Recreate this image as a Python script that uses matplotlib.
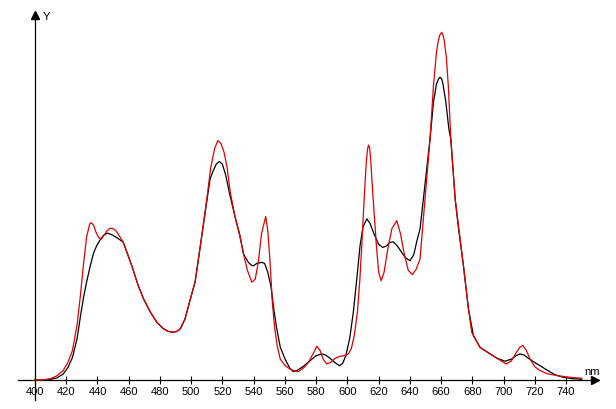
import numpy as np
import matplotlib.pyplot as plt

# red spectrum (nm, relative intensity)
red_nm = [400, 405, 410, 414, 418, 421, 424, 427, 429, 431, 433, 435, 436, 437.5, 439, 441,
          442.5, 444, 446, 448, 450, 452, 454, 456.5, 459, 462, 466, 469.5, 474, 478, 482,
          485, 488.5, 491, 493, 496, 499, 502.5, 506, 510, 512.5, 515, 517, 519, 521, 523,
          525, 528, 531, 533.5, 536, 538.8, 541, 543, 545, 547.7, 549, 550.5, 552, 553.5,
          555, 557, 560, 563, 566, 568.6, 572, 575, 578, 580.4, 582.5, 584.5, 586.8, 589,
          592, 595.3, 598, 600.6, 602.5, 604.5, 606.4, 608, 609.2, 610.5, 612, 612.8, 613.5,
          614.2, 614.8, 616.5, 618.5, 620, 621.6, 623.5, 626, 628.5, 631.6, 634, 636.5, 639,
          641.6, 644, 646.5, 649.7, 652.9, 655.1, 657, 658, 659, 660.4, 661.2, 662, 663.3,
          664.6, 666.2, 669, 674.3, 677.5, 679.6, 684.9, 691.3, 696, 701.6, 705, 708, 710.5,
          712.3, 714.5, 717, 720, 723.4, 728, 735, 742, 750]
red_val = [0.000, 0.000, 0.004, 0.012, 0.027, 0.050, 0.085, 0.160, 0.240, 0.330, 0.410,
           0.448, 0.452, 0.445, 0.425, 0.408, 0.405, 0.415, 0.428, 0.436, 0.435, 0.428,
           0.414, 0.396, 0.365, 0.328, 0.272, 0.233, 0.194, 0.166, 0.148, 0.140, 0.137,
           0.140, 0.147, 0.175, 0.225, 0.282, 0.390, 0.520, 0.610, 0.665, 0.688, 0.680,
           0.655, 0.610, 0.540, 0.470, 0.418, 0.362, 0.315, 0.281, 0.290, 0.340, 0.420,
           0.470, 0.430, 0.338, 0.220, 0.147, 0.100, 0.060, 0.042, 0.032, 0.026, 0.024,
           0.035, 0.050, 0.075, 0.097, 0.085, 0.060, 0.046, 0.050, 0.062, 0.068, 0.070,
           0.075, 0.090, 0.130, 0.195, 0.290, 0.386, 0.500, 0.620, 0.660, 0.675, 0.668,
           0.640, 0.520, 0.390, 0.310, 0.285, 0.310, 0.380, 0.435, 0.458, 0.420, 0.360,
           0.315, 0.303, 0.318, 0.348, 0.520, 0.693, 0.846, 0.940, 0.970, 0.990, 0.999,
           0.992, 0.975, 0.930, 0.846, 0.693, 0.520, 0.328, 0.204, 0.137, 0.094, 0.075,
           0.062, 0.046, 0.055, 0.078, 0.095, 0.099, 0.085, 0.060, 0.038, 0.027, 0.018,
           0.012, 0.008, 0.005]

# black spectrum
black_nm = [400, 405, 410, 414, 418, 421, 424, 427, 429, 431, 433, 435.5, 437.5, 439.5, 442,
            444, 446.3, 449, 452, 454, 456.5, 459, 462, 466, 469.5, 474, 478, 482, 485,
            488.5, 491, 493, 496, 499, 502.5, 506, 509.9, 512.1, 514, 516, 518, 520, 522,
            524.9, 528, 531, 533.5, 536.6, 538.5, 539.8, 542, 545.2, 547, 549, 551, 553,
            554.8, 557, 560.1, 563, 565.4, 568, 572, 576, 580, 583.6, 586, 589, 592, 594.9,
            597, 599, 601.5, 603.8, 606, 608.1, 610, 612.4, 614.5, 617, 620, 622.6, 625, 627,
            629.4, 632, 635, 637.5, 640.1, 642.5, 644.5, 646.5, 649.7, 652.9, 655.1, 657,
            658.3, 659.3, 660.3, 661, 663, 665, 666.2, 669, 671, 674.3, 677.5, 680.7, 684.9,
            691.3, 696, 700.9, 705, 708, 710.6, 713, 716, 720, 723.4, 728, 733, 738, 744, 750]
black_val = [0.000, 0.000, 0.002, 0.006, 0.017, 0.035, 0.065, 0.120, 0.180, 0.235, 0.281,
             0.330, 0.365, 0.386, 0.405, 0.416, 0.422, 0.418, 0.410, 0.404, 0.396, 0.365,
             0.328, 0.272, 0.233, 0.194, 0.166, 0.148, 0.140, 0.137, 0.140, 0.147, 0.175,
             0.225, 0.282, 0.390, 0.511, 0.578, 0.600, 0.620, 0.628, 0.620, 0.590, 0.529,
             0.470, 0.418, 0.362, 0.338, 0.330, 0.328, 0.335, 0.338, 0.335, 0.310, 0.270,
             0.200, 0.147, 0.095, 0.060, 0.035, 0.024, 0.028, 0.040, 0.055, 0.070, 0.075,
             0.072, 0.062, 0.050, 0.041, 0.048, 0.070, 0.120, 0.195, 0.290, 0.386, 0.440,
             0.463, 0.450, 0.420, 0.390, 0.381, 0.385, 0.395, 0.397, 0.385, 0.365, 0.350,
             0.343, 0.360, 0.400, 0.434, 0.563, 0.693, 0.798, 0.850, 0.865, 0.870, 0.866,
             0.855, 0.800, 0.720, 0.693, 0.520, 0.440, 0.328, 0.204, 0.127, 0.094, 0.075,
             0.062, 0.054, 0.060, 0.070, 0.075, 0.072, 0.062, 0.050, 0.041, 0.028, 0.015,
             0.008, 0.004, 0.002]

ticks = list(range(400, 741, 20))

plt.rcParams['font.family'] = ['Liberation Sans', 'DejaVu Sans']

fig = plt.figure(figsize=(6.16, 4.10), dpi=100)
ax = fig.add_axes([0, 0, 1, 1])

# pixel layout: 400nm at x=35px, 20nm = 31.24px, baseline at y=381px, 348px per unit
px_nm = 20 / 31.24
ax.set_xlim(400 - 35 * px_nm, 400 + 581 * px_nm)
ax.set_ylim(-29 / 348, 381 / 348)

ax.plot(black_nm, black_val, color='black', lw=0.9, zorder=3)
ax.plot(red_nm, red_val, color='#e00000', lw=0.9, zorder=4)

for s in ['top', 'right']:
    ax.spines[s].set_visible(False)
ax.spines['bottom'].set_position(('data', 0))
ax.spines['left'].set_position(('data', 400))
x_end = 400 + (595 - 35) * px_nm
y_top = (381 - 16) / 348
ax.spines['bottom'].set_bounds(400 - 17 * px_nm, x_end)
ax.spines['left'].set_bounds(-20 / 348, y_top)
ax.spines['bottom'].set_linewidth(0.9)
ax.spines['left'].set_linewidth(0.9)

# arrow heads
ax.plot([x_end], [0], marker='>', color='black', markersize=6, clip_on=False)
ax.plot([400], [y_top], marker='^', color='black', markersize=6, clip_on=False)

ax.set_xticks(ticks)
ax.set_xticklabels([str(t) for t in ticks])
ax.set_yticks([])
ax.tick_params(axis='x', direction='inout', length=6, width=0.8, pad=1, labelsize=8)

ax.text(400 + 8 * px_nm, (381 - 17) / 348, 'Y', fontsize=8, va='center', ha='left')
ax.text(400 + 549 * px_nm, (381 - 372) / 348, 'nm', fontsize=8, va='center', ha='left')

fig.savefig('out.png', dpi=100)
